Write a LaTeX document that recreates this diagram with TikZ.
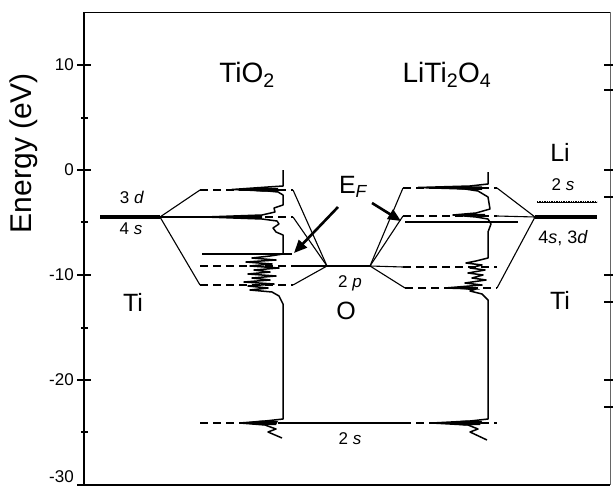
\documentclass[tikz,border=0pt]{standalone}
\usepackage{fontspec}
\setmainfont{Liberation Sans}
\usetikzlibrary{arrows.meta}
\tikzset{
  level/.style={line width=2.4pt, dash pattern=on 8pt off 5pt},
  conn/.style={line width=1.1pt},
  atomline/.style={line width=4.5pt},
  dos/.style={line width=1.5pt, line join=round},
  efline/.style={line width=2.6pt},
  efarrow/.style={line width=2.6pt, -{Triangle[length=13pt,width=11pt]}},
  axisline/.style={line width=1.6pt},
  tick/.style={line width=1.3pt},
  big/.style={font=\fontsize{28}{30}\selectfont, inner sep=0pt},
  atomlbl/.style={font=\fontsize{25}{28}\selectfont, inner sep=0pt},
  small/.style={font=\fontsize{17}{20}\selectfont, inner sep=0pt},
  ticklbl/.style={font=\fontsize{17}{20}\selectfont, inner sep=0pt, anchor=east}
}
\begin{document}
\begin{tikzpicture}[x=1pt,y=-1pt]
\useasboundingbox (0,0) rectangle (613,487);
% ---------- axes ----------
\coordinate (TL) at (84,12);
\coordinate (TR) at (610,12);
\coordinate (BL) at (84,485);
\coordinate (BR) at (610,485);
\draw[axisline] (BL) -- (TL);
\draw[line width=0.8pt] (TL) -- (TR);
\draw[line width=0.7pt, black!60] (TR) -- (BR);
\draw[line width=2.6pt] (BL) -- (BR);
\foreach \y/\t in {65/10,170/0,275/-10,380/-20}{
  \draw[tick] (77,\y) -- (91,\y);
  \node[ticklbl] (tl\t) at (74,\y) {\t};
}
\draw[tick] (77,485) -- (91,485);
\node[ticklbl, anchor=south east] (tlm30) at (74,483) {-30};
\foreach \y in {118,222,328,432}{
  \draw[tick] (81,\y) -- (88,\y);
}
\foreach \y in {65,90,170,197,275,302,380,407}{
  \draw[tick] (604,\y) -- (613,\y);
}
\node[rotate=90, font=\fontsize{30}{32}\selectfont, inner sep=0pt] (ylab) at (24,153) {Energy (eV)};
% ---------- titles ----------
\node[big] (t1) at (247,75) {TiO\textsubscript{2}};
\node[big] (t2) at (447,75) {LiTi\textsubscript{2}O\textsubscript{4}};
% ---------- coordinates ----------
\coordinate (TiLa) at (100,217);
\coordinate (TiL) at (160,217);
\coordinate (a1L) at (200,190); \coordinate (a1R) at (293,190);
\coordinate (a2L) at (200,217); \coordinate (a2R) at (293,217);
\coordinate (e1L) at (202,254); \coordinate (e1R) at (292,254);
\coordinate (a3L) at (200,266); \coordinate (a3R) at (293,266);
\coordinate (a4L) at (200,285); \coordinate (a4R) at (293,285);
\coordinate (OL) at (327,266); \coordinate (OR) at (370,266);
\coordinate (b1L) at (403,188); \coordinate (b1R) at (497,188);
\coordinate (b2L) at (403,216); \coordinate (b2R) at (497,216);
\coordinate (e2L) at (405,222); \coordinate (e2R) at (518,222);
\coordinate (b3L) at (403,267); \coordinate (b3R) at (497,267);
\coordinate (b4L) at (405,288); \coordinate (b4R) at (497,288);
\coordinate (TiR) at (535,217); \coordinate (TiRb) at (597,217);
\coordinate (LiL) at (537,202); \coordinate (LiR) at (597,202);
\coordinate (s1L) at (200,423); \coordinate (s1R) at (283,423);
\coordinate (s2L) at (403,423); \coordinate (s2R) at (497,423);
% ---------- DOS TiO2 ----------
\draw[dos] (283,170) -- (283,186) -- (268,187) -- (232,189.5) -- (268,191) -- (278,192) -- (283,195) -- (283,205) -- (274,208) -- (275,212) -- (262,215) -- (205,217) -- (262,219) -- (277,221) -- (279,224) -- (273,228) -- (276,232) -- (283,235) -- (283,254) -- (270,256) -- (252,258) -- (276,260) -- (246,262) -- (272,264) -- (250,266) -- (279,268) -- (254,270) -- (270,272) -- (248,274) -- (276,276) -- (252,278) -- (270,280) -- (244,282) -- (274,284) -- (248,286) -- (268,288) -- (250,290) -- (272,292) -- (279,296) -- (283,304) -- (283,419) -- (265,421) -- (240,423) -- (265,425) -- (276,429) -- (268,432) -- (282,438);
\fill (236,189.5) -- (260,187.5) -- (278,188) -- (278,191.5) -- (260,191.5) -- cycle;
\fill (215,217) -- (240,215.5) -- (262,215) -- (262,219) -- (240,218.5) -- cycle;
\fill (240,423) -- (262,420.5) -- (278,421) -- (276,425) -- (262,425) -- cycle;
% ---------- DOS LiTi2O4 ----------
\draw[dos] (488,172) -- (488,184) -- (470,186) -- (418,187.5) -- (465,189) -- (478,191) -- (488,197) -- (490,209) -- (476,213) -- (453,215) -- (476,217) -- (488,219) -- (491,224) -- (488,232) -- (488,258) -- (476,261) -- (466,263) -- (482,265) -- (470,268) -- (485,270) -- (468,273) -- (483,275) -- (472,278) -- (486,280) -- (465,283) -- (482,285) -- (445,288) -- (476,289) -- (470,291) -- (482,294) -- (488,300) -- (488,419) -- (470,421) -- (432,423) -- (468,425) -- (478,429) -- (470,432) -- (487,440);
\fill (440,187.5) -- (462,186) -- (482,186.5) -- (482,190) -- (462,189.5) -- cycle;
\fill (455,215) -- (470,213.5) -- (485,214) -- (485,217) -- (470,216.5) -- cycle;
\fill (455,288) -- (472,286.5) -- (480,289.5) -- (470,290) -- cycle;
\fill (440,423) -- (465,420.5) -- (482,421) -- (480,425) -- (465,425.5) -- cycle;
% ---------- atomic levels ----------
\draw[atomline] (TiLa) -- (TiL);
\draw[atomline] (TiR) -- (TiRb);
\draw[line width=1.4pt, densely dotted] (LiL) -- (LiR);
\draw[line width=1pt] (LiL) -- (LiR);
\draw[line width=2.2pt] (OL) -- (OR);
% ---------- molecular levels ----------
\foreach \p in {a1,a2,a3,a4,b1,b2,b3,b4,s1,s2}{
  \draw[level] (\p L) -- (\p R);
}
\draw[efline] (e1L) -- (e1R);
\draw[efline] (e2L) -- (e2R);
% ---------- connectors ----------
\draw[conn] (TiL) -- (a1L);
\draw[conn] (TiL) -- (a2L);
\draw[conn] (TiL) -- (a4L);
\draw[conn] (OL) -- (a1R);
\draw[conn] (OL) -- (a2R);
\draw[conn] (OL) -- (a3R);
\draw[conn] (OL) -- (a4R);
\draw[conn] (OR) -- (b1L);
\draw[conn] (OR) -- (b2L);
\draw[conn] (OR) -- (b3L);
\draw[conn] (OR) -- (b4L);
\draw[conn] (TiR) -- (b1R);
\draw[conn] (TiR) -- (b2R);
\draw[conn] (TiR) -- (b4R);
\draw[conn] (s1R) -- (s2L);
% ---------- Fermi arrows ----------
\node[font=\fontsize{25}{27}\selectfont, inner sep=0pt] (EF) at (353,187) {E\textsubscript{\itshape F}};
\coordinate (ar1t) at (338,207); \coordinate (ar1h) at (294,253);
\coordinate (ar2t) at (372,203); \coordinate (ar2h) at (401,221);
\draw[efarrow] (ar1t) -- (ar1h);
\draw[efarrow] (ar2t) -- (ar2h);
% ---------- labels ----------
\node[small] (l3d) at (132,197) {3 \textit{d}};
\node[small] (l4s) at (131,229) {4 \textit{s}};
\node[atomlbl] (lTi1) at (133,302) {Ti};
\node[atomlbl] (lLi) at (560,152) {Li};
\node[small] (l2s) at (563,185) {2 \textit{s}};
\node[small, font=\fontsize{18}{20}\selectfont] (l4s3d) at (563,238) {4\textit{s}, 3\textit{d}};
\node[atomlbl] (lTi2) at (560,300) {Ti};
\node[small] (l2p) at (350,283) {2 \textit{p}};
\node[atomlbl] (lO) at (346,311) {O};
\node[small] (l2sb) at (350,439) {2 \textit{s}};
\end{tikzpicture}
\end{document}
